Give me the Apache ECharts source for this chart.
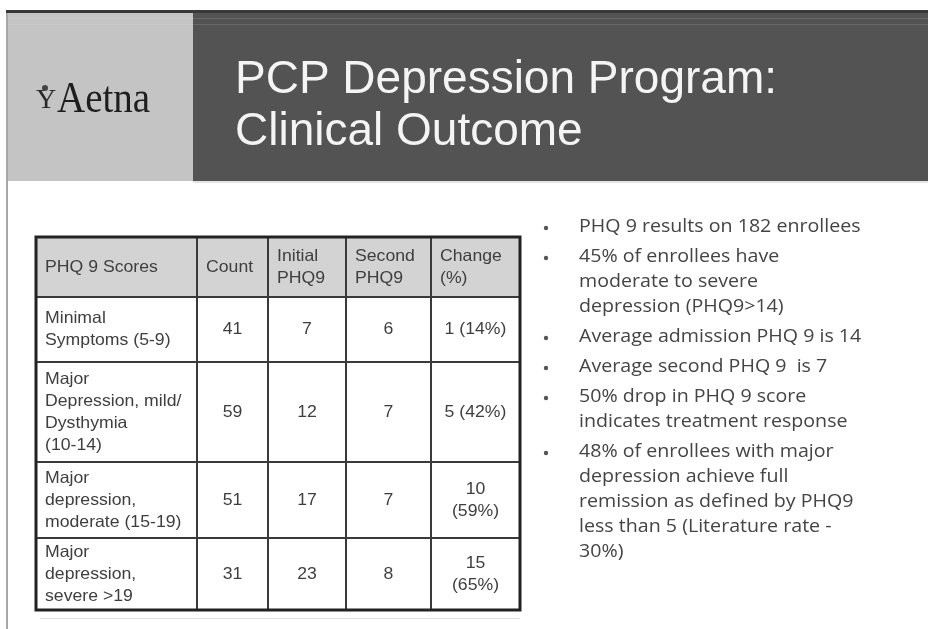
<!DOCTYPE html>
<html>
<head>
<meta charset="utf-8">
<script src="https://cdn.jsdelivr.net/npm/echarts@6/dist/echarts.min.js"></script>
<style>
  html, body { margin: 0; padding: 0; background: #fff; }
  #main { width: 928px; height: 629px; }
</style>
</head>
<body>
<div id="main"></div>
<script>
// table content
var columns = ['PHQ 9 Scores', 'Count', 'Initial\nPHQ9', 'Second\nPHQ9', 'Change\n(%)'];
var scoreBands = [
  'Minimal\nSymptoms (5-9)',
  'Major\nDepression, mild/\nDysthymia\n(10-14)',
  'Major\ndepression,\nmoderate (15-19)',
  'Major\ndepression,\nsevere >19'
];
var counts = [41, 59, 51, 31];
var initialPhq9 = [7, 12, 17, 23];
var secondPhq9 = [6, 7, 7, 8];
var changeLabels = ['1 (14%)', '5 (42%)', '10\n(59%)', '15\n(65%)'];

// bullet notes, one array of lines per bullet
var notes = [
  ['PHQ 9 results on 182 enrollees'],
  ['45% of enrollees have', 'moderate to severe', 'depression (PHQ9>14)'],
  ['Average admission PHQ 9 is 14'],
  ['Average second PHQ 9  is 7'],
  ['50% drop in PHQ 9 score', 'indicates treatment response'],
  ['48% of enrollees with major', 'depression achieve full', 'remission as defined by PHQ9', 'less than 5 (Literature rate -', '30%)']
];

// table layout (column / row edges in axis units)
var colEdges = [0, 161, 232, 310, 395, 484];
var rowEdges = [0, 60, 125, 225, 301, 373];

var cellData = [];
var cellText = [];
columns.forEach(function (name, c) {
  cellData.push([c, 0]);
  cellText.push(name);
});
scoreBands.forEach(function (band, i) {
  var row = [band, counts[i], initialPhq9[i], secondPhq9[i], changeLabels[i]];
  row.forEach(function (v, c) {
    cellData.push([c, i + 1]);
    cellText.push(String(v));
  });
});

function renderCell(params, api) {
  var c = api.value(0), r = api.value(1);
  var tl = api.coord([colEdges[c], rowEdges[r]]);
  var br = api.coord([colEdges[c + 1], rowEdges[r + 1]]);
  var w = br[0] - tl[0], h = br[1] - tl[1];
  var header = r === 0;
  var leftAlign = header || c === 0;
  return {
    type: 'group',
    children: [
      {
        type: 'rect',
        shape: { x: tl[0], y: tl[1], width: w, height: h },
        style: { fill: header ? '#d3d3d3' : '#fff', stroke: '#3a3a3a', lineWidth: 2 }
      },
      {
        type: 'text',
        x: leftAlign ? tl[0] + 9 : tl[0] + w / 2,
        y: tl[1] + h / 2,
        scaleX: 1.07,
        style: {
          text: cellText[params.dataIndex],
          fill: '#3e3e3e',
          fontSize: 16.5,
          fontFamily: 'Liberation Sans',
          align: leftAlign ? 'left' : 'center',
          verticalAlign: 'middle',
          lineHeight: 22
        }
      }
    ]
  };
}

// bullet list as graphic texts
var noteGraphics = [];
var y = 227;
notes.forEach(function (lines) {
  noteGraphics.push({
    type: 'circle', shape: { cx: 546, cy: y + 1, r: 2.2 }, style: { fill: '#555' }
  });
  lines.forEach(function (line, k) {
    noteGraphics.push({
      type: 'text', x: 579, y: y, scaleX: 1.09,
      style: { text: line, fill: '#444', fontSize: 18, fontFamily: 'Open Sans', verticalAlign: 'middle' }
    });
    y += (k === lines.length - 1) ? 30 : 25;
  });
});

var chart = echarts.init(document.getElementById('main'), null, { renderer: 'canvas' });
chart.setOption({
  backgroundColor: '#ffffff',
  animation: false,
  grid: {
    left: 36, top: 237, width: 484, height: 373,
    show: true, borderColor: '#222', borderWidth: 3, backgroundColor: 'transparent', z: 10
  },
  xAxis: { type: 'value', min: 0, max: 484, show: false },
  yAxis: { type: 'value', min: 0, max: 373, inverse: true, show: false },
  series: [{
    type: 'custom',
    renderItem: renderCell,
    data: cellData,
    silent: true
  }],
  graphic: [
    // slide frame
    { type: 'rect', shape: { x: 6, y: 10, width: 2, height: 619 }, style: { fill: '#a8a8a8' } },
    { type: 'rect', shape: { x: 8, y: 12, width: 185, height: 169 }, style: { fill: '#c4c4c4' } },
    { type: 'rect', shape: { x: 193, y: 12, width: 735, height: 169 }, style: { fill: '#535353' } },
    { type: 'rect', shape: { x: 6, y: 10, width: 922, height: 3 }, style: { fill: '#383838' } },
    { type: 'rect', shape: { x: 8, y: 18, width: 920, height: 1 }, style: { fill: 'rgba(255,255,255,0.12)' } },
    { type: 'rect', shape: { x: 8, y: 24, width: 920, height: 1 }, style: { fill: 'rgba(255,255,255,0.12)' } },
    { type: 'rect', shape: { x: 193, y: 181, width: 735, height: 2 }, style: { fill: '#e4e4e4' } },
    { type: 'rect', shape: { x: 40, y: 618, width: 480, height: 1 }, style: { fill: '#e2e2e2' } },
    // logo
    { type: 'circle', shape: { cx: 45, cy: 88, r: 3 }, style: { fill: '#444' } },
    { type: 'text', x: 36, y: 101, style: { text: 'Y', fill: '#2a2a2a', fontSize: 28, fontFamily: 'Liberation Serif', verticalAlign: 'middle' } },
    { type: 'text', x: 57, y: 101, scaleY: 1.12, style: { text: 'Aetna', fill: '#1e1e1e', fontSize: 39, fontFamily: 'Liberation Serif', verticalAlign: 'middle' } },
    // title
    { type: 'text', x: 235, y: 80, style: { text: 'PCP Depression Program:', fill: '#f4f4f4', fontSize: 46, fontFamily: 'Liberation Sans', verticalAlign: 'middle' } },
    { type: 'text', x: 235, y: 132, style: { text: 'Clinical Outcome', fill: '#f4f4f4', fontSize: 46, fontFamily: 'Liberation Sans', verticalAlign: 'middle' } }
  ].concat(noteGraphics)
});
</script>
</body>
</html>
